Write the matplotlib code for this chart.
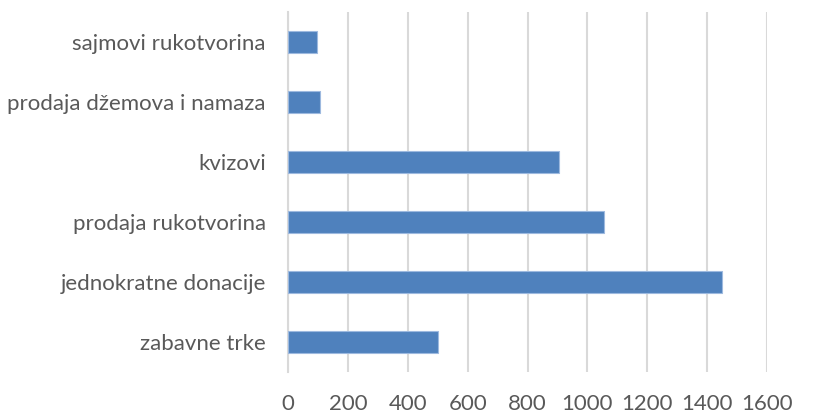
import matplotlib
matplotlib.use("Agg")
import matplotlib.pyplot as plt

categories = ['zabavne trke', 'jednokratne donacije', 'prodaja rukotvorina',
              'kvizovi', 'prodaja džemova i namaza', 'sajmovi rukotvorina']
values = [500, 1450, 1055, 905, 107, 97]
xticks = [0, 200, 400, 600, 800, 1000, 1200, 1400, 1600]

plt.rcParams['font.family'] = ['Lato', 'DejaVu Sans']

fig = plt.figure(figsize=(8.14, 4.13), dpi=100)
ax = fig.add_axes([288 / 814, 1 - 372 / 413, 479 / 814, 360 / 413])

ax.barh(range(len(categories)), values, height=0.36, color='#4F81BD',
        edgecolor='#9DB9DF', linewidth=0.8, zorder=3)

ax.set_xlim(0, 1600)
ax.set_ylim(-0.5, len(categories) - 0.5)
ax.set_xticks(xticks)
ax.set_xticklabels([str(t) for t in xticks])
ax.set_yticks(range(len(categories)))
ax.set_yticklabels(categories)

ax.grid(axis='x', color='#D9D9D9', linewidth=1.5, zorder=0)
for s in ['top', 'right', 'bottom']:
    ax.spines[s].set_visible(False)
ax.spines['left'].set_color('#D9D9D9')
ax.spines['left'].set_linewidth(1.5)
ax.tick_params(axis='both', length=0, labelsize=16, colors='#595959')
ax.tick_params(axis='y', pad=16)
ax.tick_params(axis='x', pad=16)

fig.savefig('out.png', dpi=100)
